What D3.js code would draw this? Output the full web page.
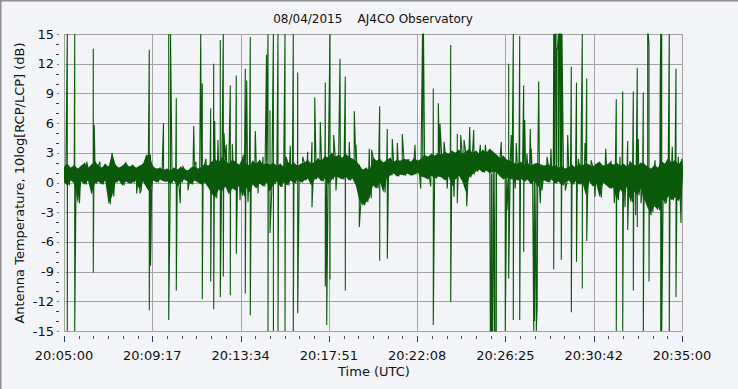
<!DOCTYPE html>
<html>
<head>
<meta charset="utf-8">
<script src="https://cdn.jsdelivr.net/npm/d3@7"></script>
<style>
  html, body { margin: 0; padding: 0; background: #f3f4f7; }
  svg { display: block; }
  text { font-family: "DejaVu Sans", sans-serif; fill: #111; }
</style>
</head>
<body>
<div id="chart"></div>
<script>
// chart texts
const title = "08/04/2015    AJ4CO Observatory";
const xTitle = "Time (UTC)";
const yTitle = "Antenna Temperature, 10log[RCP/LCP] (dB)";

// time axis: seconds after 20:05:00, 7 major divisions
const duration = 1800;
const timeLabels = ["20:05:00", "20:09:17", "20:13:34", "20:17:51", "20:22:08", "20:26:25", "20:30:42", "20:35:00"];
const yTicks = [-15, -12, -9, -6, -3, 0, 3, 6, 9, 12, 15];

// noise band, one value every 10 s (top / bottom of the trace, dB)
const bandStep = 10;
const bandHi = [
  1.6, 1.9, 1.5, 1.8, 1.4, 1.7, 2.0, 1.5, 1.8, 2.2,
  1.7, 1.5, 1.9, 1.6, 3.0, 1.8, 1.5, 1.7, 2.0, 1.6,
  1.8, 1.5, 1.7, 1.9, 2.8, 2.6, 1.6, 1.4, 1.5, 1.3,
  1.4, 1.2, 1.5, 1.3, 1.6, 1.4, 1.2, 1.5, 1.7, 1.4,
  1.6, 1.9, 1.7, 2.1, 2.4, 2.0, 2.6, 2.2, 1.9, 2.3,
  2.1, 1.8, 2.4, 2.0, 1.7, 2.2, 1.9, 2.3, 1.8, 2.0,
  1.8, 2.0, 1.7, 1.9, 1.6, 2.2, 1.8, 2.0, 1.7, 1.9,
  2.0, 2.3, 1.9, 2.1, 2.4, 2.2, 2.7, 2.5, 3.0, 2.6,
  2.8, 2.5, 2.9, 2.6, 2.4, 2.2, 1.8, 1.3, 1.5, 1.2,
  2.6, 2.2, 2.4, 2.0, 2.3, 2.5, 2.1, 2.3, 2.2, 2.4,
  2.3, 2.1, 2.5, 2.2, 2.4, 2.8, 2.6, 2.9, 2.7, 3.0,
  2.8, 3.1, 2.9, 3.2, 3.0, 3.3, 2.9, 3.1, 3.4, 3.0,
  3.2, 2.9, 3.3, 3.0, 3.4, 3.1, 2.8, 2.5, 2.7, 2.3,
  2.2, 2.0, 1.9, 2.1, 1.8, 2.0, 1.7, 1.9, 2.0, 1.8,
  1.7, 1.9, 1.6, 1.8, 1.5, 1.7, 1.4, 1.6, 1.8, 1.5,
  1.9, 1.7, 2.0, 1.8, 1.6, 1.9, 2.1, 1.7, 1.8, 2.0,
  1.8, 2.0, 1.7, 1.9, 1.6, 2.1, 1.8, 1.7, 2.0, 1.9,
  1.6, 1.4, 1.8, 1.5, 2.2, 1.9, 2.5, 2.0, 2.3, 1.8, 2.4
];
const bandLo = [
  0.0, -0.3, 0.2, -0.1, -2.1, 0.1, -0.2, 0.2, -1.2, -0.1,
  0.1, -0.2, 0.2, -2.2, -1.4, 0.0, 0.2, -0.3, 0.1, -0.1,
  0.0, 0.2, -0.8, 0.1, -0.5, -1.0, 0.2, 0.0, 0.3, 0.1,
  0.1, -0.1, 0.2, -0.4, 0.0, 0.3, 0.1, -0.2, 0.2, 0.0,
  -0.2, 0.0, -0.5, -1.1, -1.6, -0.7, -0.9, -0.4, -1.2, -0.6,
  -0.8, -0.3, -1.4, -0.5, -1.0, -0.2, -0.6, -0.1, -0.4, 0.0,
  -0.9, -0.2, 0.1, -0.4, 0.0, -0.3, 0.2, -0.1, 0.3, 0.0,
  0.2, 0.4, -0.3, 0.3, 0.5, 0.1, 0.4, -0.2, 0.3, 0.6,
  0.5, 0.3, 0.6, 0.2, 0.4, -0.3, -1.8, -2.3, -2.0, -1.6,
  -0.3, -0.6, 0.1, -1.0, 0.4, 0.7, 0.9, 0.6, 0.8, 0.7,
  0.9, 0.7, 0.8, 1.0, 0.6, 0.5, 0.3, 0.7, 0.4, 0.6,
  0.5, 0.2, 0.6, -0.4, 0.3, 0.7, 0.1, -0.9, 0.5, 0.8,
  1.1, 1.3, 1.0, 1.2, 0.9, 1.1, 1.0, 0.6, 0.3, 0.5,
  0.3, 0.5, 0.2, 0.4, 0.1, 0.3, -0.2, 0.2, -0.5, 0.1,
  0.2, 0.0, 0.3, -0.1, 0.1, -0.3, 0.0, 0.2, -0.2, 0.1,
  -0.2, 0.0, -1.3, 0.1, -0.4, -0.1, -1.5, 0.0, -0.3, -0.6,
  -0.5, -1.8, -0.7, -1.1, -0.4, -2.0, -0.9, -1.3, -0.6, -1.7,
  -2.6, -3.0, -2.4, -2.8, -1.6, -2.0, -1.4, -1.8, -1.5, -1.9, -1.2
];

// small excursions just outside the band: [seconds, dB]
const ripples = [
  [66.1, 2.1], [104.9, 2.1], [177.7, 1.9], [211.7, -1.1], [221.4, -1.1],
  [346.6, 1.6], [361.2, -0.8], [384.5, 2.1], [413.6, 2.4], [448.5, 4.3],
  [472.7, 3.8], [512.6, -1.8], [535.9, -2.0], [565, -1.1], [597, -0.8],
  [632, -0.4], [646.6, 2.6], [695.2, 2.6], [709.8, 3.1], [738.9, 2.4],
  [792.2, -0.8], [831, 4.1], [850.5, 3.8], [876.7, -2.1], [896.2, 3.3],
  [907.9, -0.4], [932, 1.9], [970.8, 4.0], [1004.8, 2.3], [1022.3, 3.8],
  [1038.9, -0.6], [1068, -0.4], [1106.8, 4.1], [1116.4, -0.6], [1135.9, -1.45],
  [1155.4, 4.8], [1165, 4.3], [1212.5, 3.8], [1227.1, 3.8], [1290.3, -2.8],
  [1314.5, -0.6], [1348.5, 2.9], [1361, 3.4], [1392.2, -0.8], [1406.8, 2.6],
  [1460.1, -0.8], [1498, 2.4], [1535, 2.25], [1546.6, -1.45], [1561.2, -0.6],
  [1593.2, 2.1], [1602.8, -2.1], [1619.4, 2.6], [1634, -2.5], [1648.5, 2.1],
  [1665.1, -3.3], [1680.6, -2.1], [1709.8, -3.3], [1721.5, 2.25], [1750.6, -2.1],
  [1771.7, 3.6], [1789.2, 2.6]
];

// spikes: [seconds after 20:05:00, peak (dB) or null, dip (dB) or null]
const spikes = [
  [9.6, 15, -15], [31.2, 15, -15], [85.3, 13.5, -9.1], [88, 5.8, null],
  [248.4, 13.4, -12.9], [252, 2.8, -8.4], [253.4, null, -6], [289.8, 6.0, null],
  [305, 15, -13.9], [310.2, 15, null], [327.1, 8.5, -10.9], [338.7, null, -2.1],
  [377.8, 5.7, null], [398.2, 15, null], [402.8, 10.0, -11.8], [427.3, 7.5, -10.0],
  [436, 12.0, -12.8], [438.9, 6.2, null], [455.2, 14.4, -11.6], [464, 15, -9.5],
  [466, 5.0, null], [484.4, 9.8, -11.4], [490.2, 3.9, null], [501.8, 10.8, -7.2],
  [522.2, 2.8, null], [528, 11.5, -11.2], [532.1, 10.3, null], [542.6, 14.7, -13.4],
  [557.2, 5.2, null], [579.6, 2.6, null], [589.8, 12.9, null], [594.2, 15, -15],
  [600, 7.3, -5.1], [609.9, 15, -15], [623.3, 15, -15], [643.7, 15, -15],
  [659.1, 3.7, null], [667.9, 15, -15], [680.7, 11.1, -13.2], [722.3, 4.1, -2.5],
  [730.2, 8.6, null], [746.5, 6.1, null], [761.1, 10.1, -10.5], [765.1, null, -14.4],
  [774.8, 15, -9.8], [785.5, 4.8, null], [803.9, 12.5, null], [819.3, 10.7, -10.9],
  [845.5, 7.2, null], [860.1, null, -4.5], [889.2, 3.4, null], [919.5, 7.7, -7.9],
  [941.7, 5.4, -7.7], [956.2, 4.4, null], [985.3, 4.9, null], [1044.2, 15, null],
  [1045.6, 15, null], [1047.1, 15, null], [1075.6, 9.5, -14.4], [1090.2, 8.0, null],
  [1095.1, 5.9, null], [1126.3, 13.9, -12.1], [1145.5, 4.9, -2.1], [1172.9, null, -2.4],
  [1181.6, 5.6, null], [1193.3, 5.3, null], [1241.6, null, -15], [1243.7, null, -15],
  [1245.7, null, -15], [1248.1, null, -15], [1253.3, null, -15], [1255.3, null, -15],
  [1257.4, null, -15], [1259.1, null, -15], [1273.7, 4.1, null], [1285.3, null, -15],
  [1295.2, 12.0, -9.7], [1302.8, 4.8, null], [1308.6, 15, -13.9], [1317.4, 4.0, null],
  [1327.3, 14.8, -13.9], [1338.9, 9.8, -7.0], [1341.8, 6.3, null], [1358.2, 5.4, null],
  [1368.1, null, -15], [1370.4, null, -14], [1375.6, null, -15], [1378.2, null, -12.5],
  [1382.6, 10.2, null], [1387.3, null, -2.1], [1418.4, 3.4, null], [1426.3, 15, -8.8],
  [1428.7, 15, null], [1431, 15, null], [1433, 15, null], [1435.4, 13.5, null],
  [1437.4, 13.5, null], [1439.7, 15, null], [1441.7, 15, null], [1444.1, 15, null],
  [1446.1, 15, null], [1448.4, 15, -7.8], [1450.5, 15, null], [1467.1, 4.8, null],
  [1477.6, 11.7, -13.1], [1492.7, 10.1, -8.0], [1509.6, 15, -10.7], [1517.5, 4.0, null],
  [1522.4, 10.5, -5.9], [1577.8, 3.4, null], [1608.6, 8.4, -15], [1627.3, 9.2, -15],
  [1641.8, 4.2, -4.8], [1658.2, 9.2, -10.9], [1669.8, 11.6, -4.5], [1672.7, 4.4, null],
  [1687.3, 9.1, -15], [1700.1, 15, null], [1701.9, 15, null], [1703.9, 13.8, -10.0],
  [1736.5, 10.3, null], [1738, 15, -15], [1740.9, 15, -15], [1763, 15, -15],
  [1782.5, 11.5, -11.6], [1797.1, null, -4.1]
];

const W = 738, H = 389;
const plot = { left: 64, right: 682, top: 34, bottom: 331 };
const green = "#0b5a0b";
const gridColor = "#a3a3a3";

const svg = d3.select("#chart").append("svg")
  .attr("width", W)
  .attr("height", H);

// sunken panel frame
svg.append("rect").attr("width", W).attr("height", H).attr("fill", "#f3f4f7");
svg.append("path")
  .attr("d", `M0.5,${H} V0.5 H${W}`)
  .attr("fill", "none").attr("stroke", "#8f8f8f").attr("stroke-width", 2);

var x = d3.scaleLinear().domain([0, duration]).range([plot.left, plot.right]);
var y = d3.scaleLinear().domain([-15, 15]).range([plot.bottom, plot.top]);

const majorT = timeLabels.map((_, i) => i * duration / (timeLabels.length - 1));
const minorT = d3.range(0, 43).map(i => i * duration / 42);
const minorY = d3.range(-15, 16);

// grid
var grid = svg.append("g").attr("shape-rendering", "crispEdges");
grid.selectAll(".hg").data(yTicks).enter().append("line")
  .attr("x1", plot.left).attr("x2", plot.right)
  .attr("y1", d => Math.round(y(d)) + 0.5).attr("y2", d => Math.round(y(d)) + 0.5)
  .attr("stroke", gridColor);
grid.selectAll(".vg").data(majorT).enter().append("line")
  .attr("y1", plot.top).attr("y2", plot.bottom)
  .attr("x1", d => Math.round(x(d)) + 0.5).attr("x2", d => Math.round(x(d)) + 0.5)
  .attr("stroke", gridColor);

// trace
svg.append("clipPath").attr("id", "clip").append("rect")
  .attr("x", plot.left).attr("y", plot.top - 1)
  .attr("width", plot.right - plot.left + 1).attr("height", plot.bottom - plot.top + 2);

var trace = svg.append("g").attr("clip-path", "url(#clip)");

var area = d3.area()
  .x((d, i) => x(i * bandStep))
  .y0((d, i) => y(bandLo[i]))
  .y1((d, i) => y(bandHi[i]));
trace.append("path").datum(bandHi)
  .attr("d", area)
  .attr("fill", green);

// zigzag line through the band, with ripples and spikes put in at their times
let pts = [];
bandHi.forEach((h, i) => {
  pts.push([i * bandStep, h]);
  pts.push([i * bandStep + bandStep / 2, bandLo[i]]);
});
ripples.forEach(r => pts.push([r[0], r[1]]));
spikes.forEach(s => {
  if (s[1] !== null) pts.push([s[0], s[1]]);
  if (s[2] !== null) pts.push([s[0] + 0.01, s[2]]);
});
pts.sort((a, b) => a[0] - b[0]);

var line = d3.line().x(d => x(d[0])).y(d => y(d[1]));
trace.append("path").datum(pts)
  .attr("d", line)
  .attr("fill", "none")
  .attr("stroke", green)
  .attr("stroke-width", 1.1);

// y ticks
var yAx = svg.append("g").attr("shape-rendering", "crispEdges");
yAx.selectAll("line").data(minorY).enter().append("line")
  .attr("x1", d => d % 3 === 0 ? 57 : 56).attr("x2", 59)
  .attr("y1", d => Math.round(y(d)) + 0.5).attr("y2", d => Math.round(y(d)) + 0.5)
  .attr("stroke", d => d % 3 === 0 ? "#777" : "#444");
yAx.selectAll("text").data(yTicks).enter().append("text")
  .attr("x", 54).attr("y", d => y(d) + 4.5)
  .attr("text-anchor", "end")
  .style("font-size", "13px")
  .text(d => d);

// x ticks
var xAx = svg.append("g").attr("shape-rendering", "crispEdges");
xAx.selectAll(".mn").data(minorT).enter().append("line")
  .attr("x1", d => Math.round(x(d)) + 0.5).attr("x2", d => Math.round(x(d)) + 0.5)
  .attr("y1", 336).attr("y2", 339)
  .attr("stroke", "#555");
xAx.selectAll(".mj").data(majorT).enter().append("line")
  .attr("x1", d => Math.round(x(d)) + 0.5).attr("x2", d => Math.round(x(d)) + 0.5)
  .attr("y1", 336).attr("y2", 342)
  .attr("stroke", "#1f3f6f");
xAx.selectAll("text").data(timeLabels).enter().append("text")
  .attr("x", (d, i) => x(majorT[i]))
  .attr("y", 360)
  .attr("text-anchor", "middle")
  .style("font-size", "13px")
  .text(d => d);

// titles
svg.append("text")
  .attr("x", 373).attr("y", 23)
  .attr("text-anchor", "middle")
  .style("font-size", "12px")
  .style("white-space", "pre")
  .text(title);
svg.append("text")
  .attr("x", 374).attr("y", 376)
  .attr("text-anchor", "middle")
  .style("font-size", "13px")
  .text(xTitle);
svg.append("text")
  .attr("transform", "translate(24,183) rotate(-90)")
  .attr("text-anchor", "middle")
  .style("font-size", "13px")
  .text(yTitle);
</script>
</body>
</html>
